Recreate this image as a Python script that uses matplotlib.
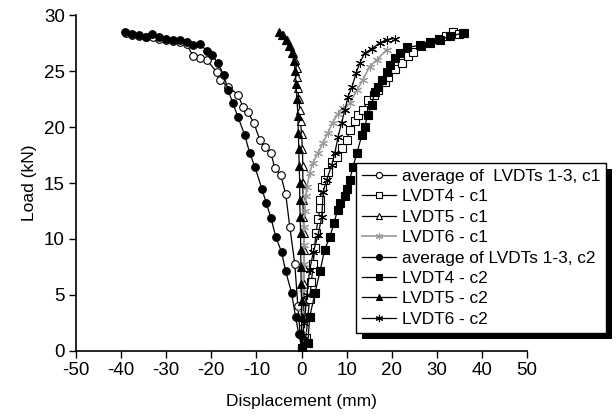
import matplotlib
matplotlib.use("Agg")
import matplotlib.pyplot as plt
from matplotlib.patches import Rectangle

plt.rcParams['font.family'] = ['Liberation Sans', 'DejaVu Sans']
plt.rcParams['axes.unicode_minus'] = False

# average of LVDTs 1-3, c1
avg_c1_x = [0.0, -0.3, -0.8, -1.5, -2.6, -3.5, -4.6, -5.9, -6.8, -8.1, -9.2, -10.6, -11.9, -13.0, -14.1,
            -16.3, -18.1, -18.8, -21.0, -22.5, -24.0, -25.5, -27.0, -28.5, -30.0, -31.5, -33.0, -34.5,
            -36.0, -37.5, -39.0]
avg_c1_y = [0.3, 1.5, 4.0, 7.8, 11.1, 14.0, 15.7, 16.3, 17.7, 18.2, 18.8, 20.4, 21.3, 21.8, 22.9,
            23.6, 24.2, 24.9, 26.0, 26.2, 26.3, 27.4, 27.6, 27.7, 27.8, 27.9, 28.0, 28.0,
            28.1, 28.2, 28.4]

# LVDT4 - c1
l4_c1_x = [0.2, 1.0, 1.4, 1.8, 2.2, 2.6, 2.9, 3.2, 3.7, 4.1, 4.1, 4.5, 5.1, 5.9, 6.7, 7.8, 8.9, 10.0,
           10.7, 11.8, 12.5, 13.6, 14.7, 16.1, 16.9, 18.5, 19.1, 20.7, 22.2, 23.6, 24.7, 26.5, 28.5,
           30.5, 32.0, 33.5, 35.0, 36.0]
l4_c1_y = [0.3, 1.2, 3.0, 4.6, 6.2, 7.8, 9.2, 10.5, 11.8, 12.8, 13.5, 14.6, 15.3, 16.0, 16.9, 17.3, 18.1, 18.8,
           19.7, 20.5, 21.1, 21.5, 22.4, 22.9, 23.3, 24.0, 24.5, 25.2, 25.7, 26.3, 26.7, 27.2, 27.5,
           27.9, 28.1, 28.5, 28.3, 28.4]

# LVDT5 - c1
l5_c1_x = [0.3, 0.4, 0.5, 0.5, 0.5, 0.5, 0.5, 0.5, 0.4, 0.3, 0.3, 0.3, 0.2, 0.0, -0.2, -0.4, -0.6,
           -0.8, -0.9, -1.1, -1.4, -1.8, -2.5, -3.3, -4.2]
l5_c1_y = [0.3, 1.5, 3.0, 4.5, 6.0, 7.5, 9.0, 10.5, 12.0, 13.5, 15.0, 16.5, 18.0, 19.4, 20.5, 21.5, 22.5,
           23.5, 24.5, 25.3, 26.0, 26.6, 27.2, 27.8, 28.2]

# LVDT6 - c1
l6_c1_x = [0.0, 0.1, 0.1, 0.3, 0.5, 0.5, 0.5, 0.7, 0.9, 1.2, 1.8, 2.5, 3.7, 4.8, 5.9, 6.9, 8.1, 9.2,
           10.7, 12.3, 13.6, 15.1, 16.7, 18.9]
l6_c1_y = [0.2, 1.5, 3.5, 5.5, 7.8, 9.5, 11.1, 12.5, 13.8, 14.6, 15.9, 16.8, 17.7, 18.6, 19.5, 20.4, 21.2, 21.7,
           22.1, 23.3, 24.2, 25.4, 26.0, 26.9]

# average of LVDTs 1-3, c2
avg_c2_x = [0.0, -0.6, -1.3, -2.2, -3.5, -4.4, -5.7, -6.8, -7.8, -8.8, -10.3, -11.5, -12.6, -14.1, -15.2,
            -16.3, -17.2, -18.5, -19.9, -21.0, -22.5, -24.0, -25.5, -27.0, -28.5, -30.0, -31.5, -33.2,
            -34.5, -36.0, -37.5, -39.1]
avg_c2_y = [0.4, 1.5, 3.0, 5.2, 7.1, 8.8, 10.2, 11.9, 13.2, 14.5, 16.4, 17.7, 19.3, 20.9, 22.1,
            23.3, 24.6, 25.7, 26.4, 26.8, 27.4, 27.3, 27.6, 27.8, 27.8, 27.9, 28.0, 28.3,
            28.0, 28.2, 28.3, 28.5]

# LVDT4 - c2
l4_c2_x = [0.2, 1.4, 1.8, 3.0, 4.1, 5.1, 6.3, 7.2, 8.0, 8.5, 9.6, 10.0, 10.7, 11.4, 12.3, 13.4, 14.0,
           14.7, 15.6, 16.2, 16.9, 17.8, 18.9, 19.6, 20.7, 21.8, 23.4, 26.2, 28.5, 30.7, 33.0, 35.8]
l4_c2_y = [0.3, 0.7, 3.0, 5.2, 7.1, 9.0, 10.2, 11.4, 12.6, 13.2, 13.8, 14.5, 15.3, 16.4, 17.7, 19.3, 20.0,
           21.1, 22.0, 23.1, 23.6, 24.2, 24.9, 25.5, 26.2, 26.6, 27.1, 27.3, 27.6, 27.8, 28.1, 28.4]

# LVDT5 - c2
l5_c2_x = [0.0, 0.0, 0.0, 0.0, -0.1, -0.1, -0.2, -0.2, -0.3, -0.4, -0.4, -0.5, -0.6, -0.7, -0.8,
           -1.0, -1.2, -1.4, -1.7, -2.2, -2.8, -3.5, -4.3, -5.0]
l5_c2_y = [0.3, 1.5, 3.0, 4.5, 6.0, 7.5, 9.0, 10.5, 12.0, 13.5, 15.0, 16.5, 18.0, 19.5, 21.0,
           22.5, 23.8, 25.0, 25.9, 26.6, 27.2, 27.8, 28.2, 28.5]

# LVDT6 - c2
l6_c2_x = [0.0, 0.6, 1.2, 1.8, 2.6, 3.7, 4.5, 4.8, 5.6, 6.7, 7.4, 8.1, 8.9, 9.6, 10.3, 11.2, 12.1,
           12.9, 14.0, 15.6, 17.3, 18.9, 20.7]
l6_c2_y = [0.2, 2.5, 5.0, 7.2, 8.8, 10.4, 12.0, 14.2, 15.3, 16.6, 17.7, 19.1, 20.4, 21.5, 22.7, 23.6, 24.8,
           25.7, 26.6, 27.0, 27.5, 27.8, 27.9]

fig = plt.figure(figsize=(6.16, 4.17), dpi=100)
ax = fig.add_axes([0.1234, 0.1583, 0.7321, 0.8057])

grey = '#9a9a9a'
ms = 5.5
mew = 0.8
ast = (6, 2, 0)

ax.plot(avg_c1_x, avg_c1_y, '-', color='black', lw=0.9, marker='o', ms=ms, mfc='white', mec='black',
        mew=mew, label='average of  LVDTs 1-3, c1')
ax.plot(l4_c1_x, l4_c1_y, '-', color='black', lw=0.9, marker='s', ms=ms, mfc='white', mec='black',
        mew=mew, label='LVDT4 - c1')
ax.plot(l5_c1_x, l5_c1_y, '-', color='black', lw=0.9, marker='^', ms=ms, mfc='white', mec='black',
        mew=mew, label='LVDT5 - c1')
ax.plot(l6_c1_x, l6_c1_y, '-', color=grey, lw=1.2, marker=ast, ms=ms + 1, mfc=grey, mec=grey,
        mew=mew, label='LVDT6 - c1')
ax.plot(avg_c2_x, avg_c2_y, '-', color='black', lw=0.9, marker='o', ms=ms, mfc='black', mec='black',
        mew=mew, label='average of LVDTs 1-3, c2')
ax.plot(l4_c2_x, l4_c2_y, '-', color='black', lw=0.9, marker='s', ms=ms, mfc='black', mec='black',
        mew=mew, label='LVDT4 - c2')
ax.plot(l5_c2_x, l5_c2_y, '-', color='black', lw=0.9, marker='^', ms=ms, mfc='black', mec='black',
        mew=mew, label='LVDT5 - c2')
ax.plot(l6_c2_x, l6_c2_y, '-', color='black', lw=0.9, marker=ast, ms=ms + 1, mfc='black', mec='black',
        mew=mew, label='LVDT6 - c2')

ax.set_xlim(-50, 50)
ax.set_ylim(0, 30)
ax.set_xticks(range(-50, 51, 10))
ax.set_yticks(range(0, 31, 5))
ax.spines['top'].set_visible(False)
ax.spines['right'].set_visible(False)
ax.spines['left'].set_linewidth(1.2)
ax.spines['bottom'].set_linewidth(1.2)
ax.tick_params(direction='out', length=5, width=1, labelsize=13.5, pad=3)
ax.set_xlabel('Displacement (mm)', fontsize=12.5, labelpad=11)
ax.set_ylabel('Load (kN)', fontsize=12.5, labelpad=5)

leg = ax.legend(loc='upper left', bbox_to_anchor=(356 / 616, 1 - 163 / 417),
                bbox_transform=fig.transFigure, fontsize=12.4, numpoints=1, markerscale=0.8,
                frameon=True, fancybox=False, edgecolor='black', framealpha=1,
                borderpad=0.35, labelspacing=0.31, handlelength=2.0, handletextpad=0.3,
                borderaxespad=0)
leg.get_frame().set_linewidth(1.0)

fig.canvas.draw()
bb = leg.get_window_extent()
shadow = Rectangle((bb.x0 + 6, bb.y0 - 6), bb.width, bb.height, transform=None,
                   facecolor='black', edgecolor='none', zorder=4.5, clip_on=False)
ax.add_patch(shadow)

fig.savefig('out.png', dpi=100)
